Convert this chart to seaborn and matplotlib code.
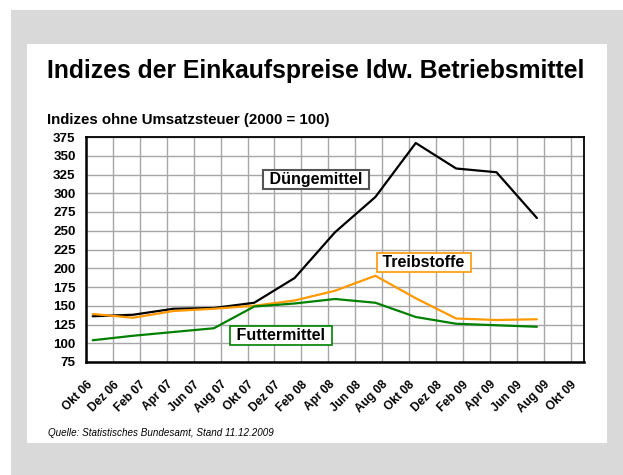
import matplotlib
matplotlib.use("Agg")
import matplotlib.pyplot as plt
import seaborn as sns
import pandas as pd
from matplotlib.patches import Rectangle

# month index, 0 = Okt 06; quarterly values plotted mid-month
months = [0.5, 3.5, 6.5, 9.5, 12.5, 15.5, 18.5, 21.5, 24.5, 27.5, 30.5, 33.5]
duenger = [136, 138, 146, 147, 154, 187, 248, 295, 367, 333, 328, 267]
treib = [139, 134, 143, 146, 150, 157, 170, 190, 160, 133, 131, 132]
futter = [104, 110, 115, 120, 149, 153, 159, 154, 135, 126, 124, 122]
tick_labels = ["Okt 06", "Dez 06", "Feb 07", "Apr 07", "Jun 07", "Aug 07", "Okt 07",
               "Dez 07", "Feb 08", "Apr 08", "Jun 08", "Aug 08", "Okt 08", "Dez 08",
               "Feb 09", "Apr 09", "Jun 09", "Aug 09", "Okt 09"]

sns.set_style("white")
plt.rcParams['font.family'] = ['Liberation Sans', 'DejaVu Sans']
plt.rcParams['text.color'] = 'black'
plt.rcParams['xtick.color'] = 'black'
plt.rcParams['ytick.color'] = 'black'

W, H = 623, 475
fig = plt.figure(figsize=(W / 100, H / 100), dpi=100)
fig.patch.set_facecolor("white")

# background panels (pixel coords from top-left)
def px_rect(x0, y0, x1, y1, color):
    fig.patches.append(Rectangle((x0 / W, 1 - y1 / H), (x1 - x0) / W, (y1 - y0) / H,
                                 transform=fig.transFigure, facecolor=color,
                                 edgecolor="none", zorder=-5))

px_rect(11, 10, 623, 475, "#d9d9d9")
px_rect(27, 44, 607, 443, "white")

ax = fig.add_axes([86 / W, 1 - 362 / H, 498 / W, 225 / H])
ax.set_zorder(2)

df = pd.DataFrame({"Monat": months * 3,
                   "Index": duenger + treib + futter,
                   "Gruppe": ["Düngemittel"] * 12 + ["Treibstoffe"] * 12 + ["Futtermittel"] * 12})
sns.lineplot(data=df, x="Monat", y="Index", hue="Gruppe",
             palette={"Düngemittel": "black", "Treibstoffe": "#ff9900", "Futtermittel": "#008000"},
             linewidth=1.6, legend=False, ax=ax, zorder=3)

ax.set_xlim(0, 37)
ax.set_ylim(75, 375)
ax.set_xticks(range(0, 37, 2))
ax.set_xticklabels(tick_labels, rotation=45, ha="right", rotation_mode="anchor",
                   fontsize=8.6, fontweight="bold")
ax.set_yticks(range(75, 376, 25))
ax.set_yticklabels([str(v) for v in range(75, 376, 25)], fontsize=9.6, fontweight="bold")
ax.tick_params(axis="y", direction="out", length=4, width=1, color="black", pad=3.5)
ax.tick_params(axis="x", direction="out", length=3, width=1, color="black", pad=9)
ax.set_xlabel("")
ax.set_ylabel("")
ax.grid(True, color="#a6a6a6", linewidth=1)
ax.set_axisbelow(True)
for s in ax.spines.values():
    s.set_color("black")
    s.set_linewidth(1.3)
ax.spines["bottom"].set_linewidth(1.8)
ax.spines["left"].set_linewidth(1.8)

box = dict(boxstyle="square,pad=0.12", facecolor="white", linewidth=1.2)
ax.text(17.1, 318, " Düngemittel ", fontsize=11.5, fontweight="bold", ha="center", va="center",
        bbox=dict(box, edgecolor="#555555", linewidth=1.5), zorder=5)
ax.text(25.1, 208, " Treibstoffe ", fontsize=11.5, fontweight="bold", ha="center", va="center",
        bbox=dict(box, edgecolor="#ff9900"), zorder=5)
ax.text(14.5, 110, " Futtermittel ", fontsize=11.5, fontweight="bold", ha="center", va="center",
        bbox=dict(box, edgecolor="#008000"), zorder=5)

fig.text(47 / W, 1 - 78 / H, "Indizes der Einkaufspreise ldw. Betriebsmittel",
         fontsize=17.8, fontweight="bold", ha="left", va="baseline")
fig.text(47 / W, 1 - 124 / H, "Indizes ohne Umsatzsteuer (2000 = 100)",
         fontsize=10.8, fontweight="bold", ha="left", va="baseline")
fig.text(48 / W, 1 - 436 / H, "Quelle: Statistisches Bundesamt, Stand 11.12.2009",
         fontsize=7.1, fontstyle="italic", ha="left", va="baseline")

fig.savefig("out.png", dpi=100)
